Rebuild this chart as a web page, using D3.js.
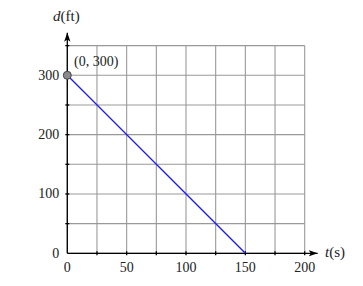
<!DOCTYPE html>
<html>
<head>
<meta charset="utf-8">
<script src="https://cdn.jsdelivr.net/npm/d3@7"></script>
<style>
  body { margin: 0; background: #fff; }
  text { font-family: "Liberation Serif", "DejaVu Serif", serif; }
</style>
</head>
<body>
<script>
/*** data ***/
const lineT = [0, 150];
const lineD = [300, 0];
const point = [0, 300];
const xTickLabels = [0, 50, 100, 150, 200];
const yTickLabels = [0, 100, 200, 300];
const xGrid = d3.range(0, 201, 25);
const yGrid = d3.range(0, 351, 50);

const width = 363, height = 286;

const x = d3.scaleLinear().domain([0, 200]).range([67.3, 304.7]);
const y = d3.scaleLinear().domain([0, 300]).range([253.3, 75.3]);

const svg = d3.select("body").append("svg")
  .attr("width", width).attr("height", height);

const defs = svg.append("defs");
defs.append("marker")
  .attr("id", "arrow")
  .attr("viewBox", "0 0 10 10")
  .attr("refX", 10).attr("refY", 5)
  .attr("markerWidth", 7).attr("markerHeight", 7)
  .attr("orient", "auto")
  .append("path")
  .attr("d", "M0,1.5 L10,5 L0,8.5 L2.5,5 Z")
  .attr("fill", "#000");

/*** grid ***/
const grid = svg.append("g").attr("stroke", "#999").attr("stroke-width", 1.1);
grid.selectAll("line.v").data(xGrid).join("line")
  .attr("x1", d => x(d)).attr("x2", d => x(d))
  .attr("y1", y(0)).attr("y2", y(350));
grid.selectAll("line.h").data(yGrid).join("line")
  .attr("x1", x(0)).attr("x2", x(200))
  .attr("y1", d => y(d)).attr("y2", d => y(d));

/*** axes ***/
const axes = svg.append("g").attr("stroke", "#000").attr("stroke-width", 1.3);
axes.append("line")
  .attr("x1", x(0)).attr("x2", x(200) + 13)
  .attr("y1", y(0)).attr("y2", y(0))
  .attr("marker-end", "url(#arrow)");
axes.append("line")
  .attr("x1", x(0)).attr("x2", x(0))
  .attr("y1", y(0)).attr("y2", y(350) - 13)
  .attr("marker-end", "url(#arrow)");

axes.selectAll("line.xt").data(xGrid.slice(1)).join("line")
  .attr("x1", d => x(d)).attr("x2", d => x(d))
  .attr("y1", y(0) - 2).attr("y2", y(0) + 2);
axes.selectAll("line.yt").data(yGrid.slice(1)).join("line")
  .attr("x1", x(0) - 2).attr("x2", x(0) + 2)
  .attr("y1", d => y(d)).attr("y2", d => y(d));

svg.append("g").selectAll("text").data(xTickLabels).join("text")
  .attr("x", d => x(d)).attr("y", y(0) + 19)
  .attr("text-anchor", "middle").attr("font-size", 14).attr("fill", "#222")
  .text(d => d);
svg.append("g").selectAll("text").data(yTickLabels).join("text")
  .attr("x", x(0) - 8).attr("y", d => y(d) + 4.5)
  .attr("text-anchor", "end").attr("font-size", 14).attr("fill", "#222")
  .text(d => d);

/*** axis labels ***/
const tl = svg.append("text").attr("x", 325).attr("y", 257).attr("font-size", 15).attr("fill", "#222");
tl.append("tspan").attr("font-style", "italic").text("t");
tl.append("tspan").text("(s)");
const dl = svg.append("text").attr("x", 53).attr("y", 21).attr("font-size", 15).attr("fill", "#222");
dl.append("tspan").attr("font-style", "italic").text("d");
dl.append("tspan").text("(ft)");

/*** line ***/
svg.append("path")
  .datum(d3.zip(lineT, lineD))
  .attr("d", d3.line().x(d => x(d[0])).y(d => y(d[1])))
  .attr("fill", "none").attr("stroke", "#1a1aff").attr("stroke-width", 1.3);

svg.append("circle")
  .attr("cx", x(point[0])).attr("cy", y(point[1])).attr("r", 4)
  .attr("fill", "#8a8a8a").attr("stroke", "#444").attr("stroke-width", 1);
svg.append("text")
  .attr("x", 74).attr("y", 66).attr("font-size", 14).attr("fill", "#222")
  .text(`(${point[0]}, ${point[1]})`);
</script>
</body>
</html>
